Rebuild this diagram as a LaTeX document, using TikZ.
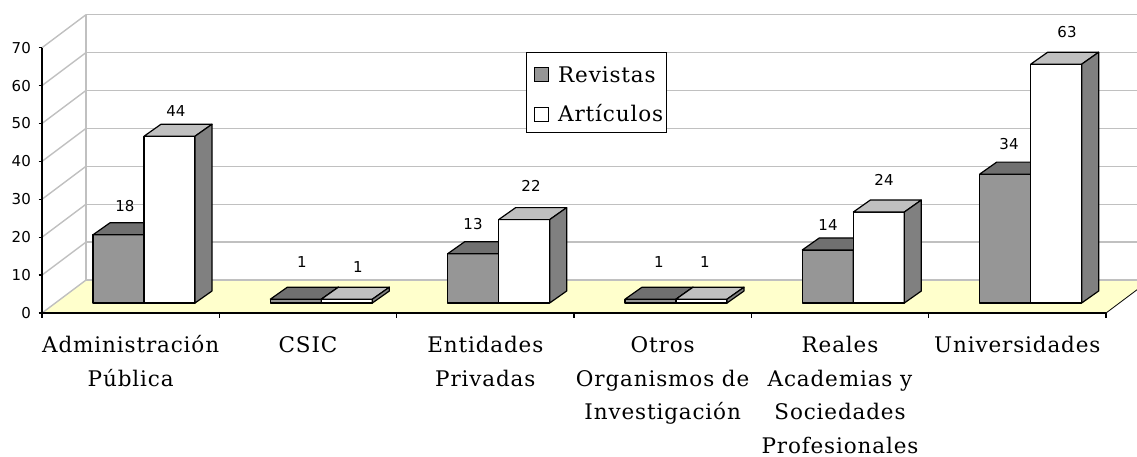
\documentclass[tikz,border=0pt]{standalone}
\usepackage{fontspec}
\setmainfont{DejaVu Serif}[LetterSpace=4]
\newfontfamily\valfont{DejaVu Sans}
\definecolor{gridgray}{HTML}{C0C0C0}
\definecolor{floorcol}{HTML}{FFFFCC}
\definecolor{revfront}{HTML}{969696}
\definecolor{revtop}{HTML}{707070}
\definecolor{revside}{HTML}{505050}
\definecolor{arttop}{HTML}{C0C0C0}
\definecolor{artside}{HTML}{808080}
\newcommand\lblstrut{\rule{0pt}{22pt}}
\tikzset{
  gridline/.style={draw=gridgray, line width=1.4pt},
  axisline/.style={draw=black, line width=1.3pt},
  barline/.style={draw=black, line width=1.2pt, line join=round},
  vallabel/.style={inner sep=0pt, font=\valfont\fontsize{15}{17}\selectfont},
  ticklabel/.style={anchor=east, inner sep=0pt, font=\valfont\fontsize{15}{17}\selectfont},
  catlabel/.style={anchor=north, inner sep=0pt, align=center,
    font=\fontsize{21.5}{33.8}\selectfont},
  legtext/.style={anchor=base west, inner sep=0pt, font=\fontsize{21.5}{24}\selectfont},
  legmark/.style={draw=black, line width=1.2pt, minimum size=14pt, inner sep=0pt},
}
\begin{document}
\begin{tikzpicture}[x=1pt,y=-1pt]
\useasboundingbox (0,0) rectangle (1137,457);
\begin{scope}
\clip (0,0) rectangle (1137,457);
% floor
\fill[floorcol] (42,313) -- (86,280) -- (1150,280) -- (1106,313) -- cycle;
% back wall gridlines and side wall lines
\foreach \k in {0,...,7}{
  \pgfmathsetmacro\yb{280-37.9*\k}
  \pgfmathsetmacro\yf{313-37.9*\k}
  \draw[gridline] (86,\yb) -- (1150,\yb);
  \draw[gridline] (42,\yf) -- (86,\yb);
}
\draw[gridline] (86,15) -- (86,280);
\draw[draw=black, line width=0.8pt] (1106,313) -- (1150,280);
% bars
\foreach \i/\r/\a in {0/18/44, 1/1/1, 2/13/22, 3/1/1, 4/14/24, 5/34/63}{
  \pgfmathsetmacro\xr{93+177.33*\i}
  \pgfmathsetmacro\xa{144+177.33*\i}
  \pgfmathsetmacro\hr{303-3.79*\r}
  \pgfmathsetmacro\ha{303-3.79*\a}
  % Revistas
  \filldraw[barline, fill=revfront] (\xr,303) rectangle (\xr+51,\hr);
  \filldraw[barline, fill=revtop] (\xr,\hr) -- (\xr+17,\hr-12) -- (\xr+68,\hr-12) -- (\xr+51,\hr) -- cycle;
  \filldraw[barline, fill=revside] (\xr+51,303) -- (\xr+68,291) -- (\xr+68,\hr-12) -- (\xr+51,\hr) -- cycle;
  % Articulos
  \filldraw[barline, fill=white] (\xa,303) rectangle (\xa+51,\ha);
  \filldraw[barline, fill=arttop] (\xa,\ha) -- (\xa+17,\ha-12) -- (\xa+68,\ha-12) -- (\xa+51,\ha) -- cycle;
  \filldraw[barline, fill=artside] (\xa+51,303) -- (\xa+68,291) -- (\xa+68,\ha-12) -- (\xa+51,\ha) -- cycle;
}
\end{scope}
% axes
\draw[axisline] (42,48) -- (42,313) -- (1106,313);
\foreach \k in {0,...,7}{
  \pgfmathsetmacro\yf{313-37.9*\k}
  \draw[axisline] (38.5,\yf) -- (42,\yf);
  \pgfmathtruncatemacro\lab{10*\k}
  \node[ticklabel] (t\k) at (31,\yf) {\lab};
}
\foreach \i in {0,...,6}{
  \pgfmathsetmacro\xt{42+177.33*\i}
  \draw[axisline] (\xt,313) -- (\xt,318);
}
% value labels
\foreach \n/\x/\y/\t in {a/125/206/18, b/176/111/44, c/302/262/1, d/358/267/1, e/473/224/13, f/531/186/22,
  g/659/262/1, h/705/262/1, i/828/225/14, j/884/180/24, k/1009/144/34, l/1067/32/63}{
  \node[vallabel] (v\n) at (\x,\y) {\t};
}
% category labels
\node[catlabel] (c0) at (130.67,330) {\lblstrut Administración\\Pública};
\node[catlabel] (c1) at (308,330) {\lblstrut CSIC};
\node[catlabel] (c2) at (485.33,330) {\lblstrut Entidades\\Privadas};
\node[catlabel] (c3) at (662.67,330) {\lblstrut Otros\\Organismos de\\Investigación};
\node[catlabel] (c4) at (840,330) {\lblstrut Reales\\Academias y\\Sociedades\\Profesionales};
\node[catlabel] (c5) at (1017.33,330) {\lblstrut Universidades};
% legend
\node[draw=black, line width=1pt, fill=white, minimum width=140pt, minimum height=80pt, inner sep=0pt] (legend) at (596,93) {};
\node[legmark, fill=revfront] (m1) at (541.5,74.5) {};
\node[legmark, fill=white] (m2) at (541.5,114.5) {};
\node[legtext] (l1) at (558,83) {Revistas};
\node[legtext] (l2) at (558,122) {Artículos};
\end{tikzpicture}
\end{document}
